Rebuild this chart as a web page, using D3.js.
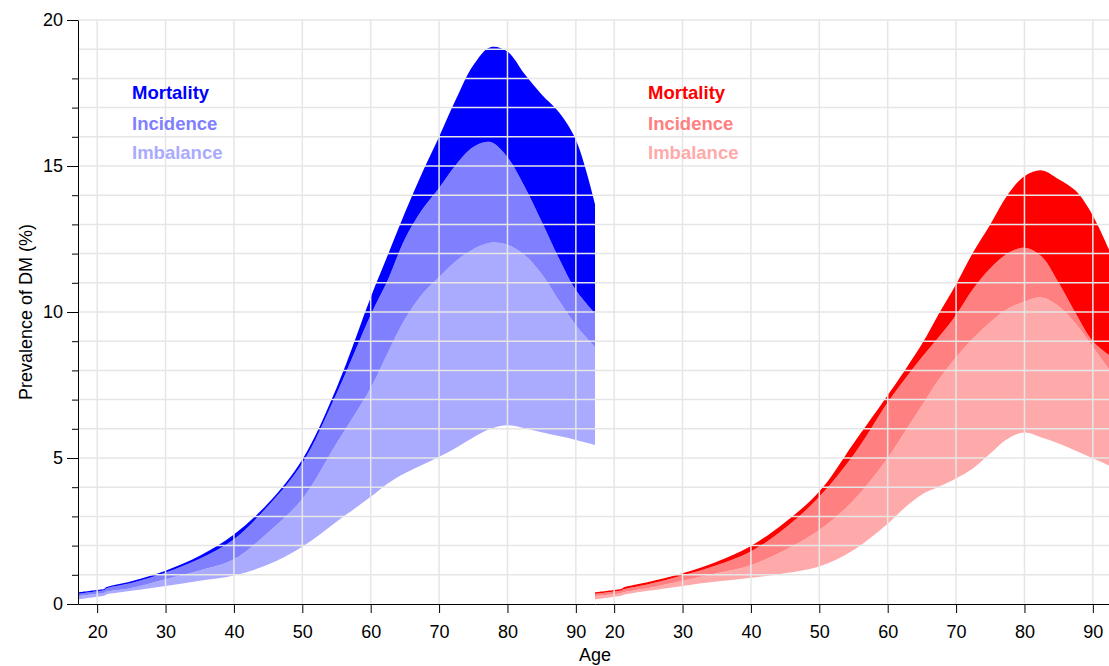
<!DOCTYPE html>
<html>
<head>
<meta charset="utf-8">
<script src="https://cdn.jsdelivr.net/npm/d3@7"></script>
<style>
    body { margin: 0; background: #ffffff; }
    svg { display: block; font-family: "Liberation Sans", Arial, sans-serif; }
</style>
</head>
<body>
<svg id="chart" width="1109" height="666"></svg>
<script>
/*=============== DATA ============*/

var ages = [17.2, 20, 21, 21.3, 25, 30, 35, 40, 45, 50, 55, 60, 62.5, 65, 67.5, 70, 72.5, 75, 77.5, 80, 82.5, 85, 87.5, 90, 92.8];

// left panel (blue)
var blueBase      = [0.16, 0.25, 0.28, 0.32, 0.45, 0.62, 0.80, 0.98, 1.35, 1.96, 2.82, 3.67, 4.13, 4.48, 4.76, 5.04, 5.35, 5.70, 6.00, 6.12, 6.02, 5.88, 5.75, 5.62, 5.45];
var blueImbalance = [0.27, 0.35, 0.38, 0.42, 0.55, 0.85, 1.15, 1.53, 2.45, 3.60, 5.50, 7.40, 8.60, 9.75, 10.60, 11.20, 11.75, 12.15, 12.37, 12.30, 11.95, 11.30, 10.40, 9.55, 8.80];
var blueIncidence = [0.35, 0.44, 0.47, 0.53, 0.72, 1.08, 1.55, 2.22, 3.36, 4.82, 7.20, 9.90, 11.10, 12.50, 13.50, 14.25, 15.05, 15.65, 15.82, 15.30, 14.30, 13.10, 11.85, 10.75, 9.95];
var blueMortality = [0.40, 0.48, 0.51, 0.57, 0.78, 1.14, 1.65, 2.38, 3.45, 4.95, 7.40, 10.50, 11.95, 13.40, 14.75, 16.00, 17.30, 18.45, 19.07, 18.92, 18.15, 17.45, 16.85, 15.90, 13.70];

// right panel (red)
var redBase      = [0.16, 0.25, 0.28, 0.31, 0.45, 0.62, 0.77, 0.90, 1.05, 1.28, 1.85, 2.75, 3.30, 3.75, 4.02, 4.30, 4.65, 5.15, 5.65, 5.87, 5.70, 5.50, 5.25, 4.99, 4.70];
var redImbalance = [0.27, 0.34, 0.37, 0.40, 0.55, 0.80, 1.05, 1.33, 1.85, 2.53, 3.55, 5.00, 5.90, 6.80, 7.70, 8.45, 9.10, 9.65, 10.10, 10.35, 10.50, 10.20, 9.60, 8.80, 7.90];
var redIncidence = [0.35, 0.43, 0.46, 0.50, 0.68, 0.98, 1.33, 1.80, 2.60, 3.67, 5.10, 6.90, 7.70, 8.45, 9.15, 9.90, 10.80, 11.50, 12.00, 12.20, 11.90, 11.00, 9.95, 9.00, 8.45];
var redMortality = [0.40, 0.48, 0.51, 0.56, 0.75, 1.05, 1.45, 1.99, 2.80, 3.85, 5.50, 7.15, 8.00, 8.90, 9.95, 10.95, 12.05, 13.00, 14.00, 14.65, 14.85, 14.55, 14.15, 13.30, 11.90];

var xTicks = [20, 30, 40, 50, 60, 70, 80, 90];
var yTicks = [0, 1, 2, 3, 4, 5, 6, 7, 8, 9, 10, 11, 12, 13, 14, 15, 16, 17, 18, 20];
var yGrid = [1, 2, 3, 4, 5, 6, 7, 8, 9, 10, 11, 12, 13, 14, 15, 16, 17, 18, 19, 20];
var legendLabels = ['Mortality', 'Incidence', 'Imbalance'];

(function () {

    /*=============== SETUP ============*/

    var svg = d3.select('#chart');

    var plotTop = 20;
    var plotBottom = 604;
    var panelWidth = 517;
    var axisLeft = 78;
    var fontFamily = '"Liberation Sans", Arial, sans-serif';

    var y = d3.scaleLinear().domain([0, 20]).range([plotBottom, plotTop]);

    var panels = [
        {
            left: axisLeft,
            base: blueBase, imbalance: blueImbalance, incidence: blueIncidence, mortality: blueMortality,
            colors: ['#0000ff', '#8080ff', '#aaaaff'],
            legendX: 132
        },
        {
            left: axisLeft + panelWidth,
            base: redBase, imbalance: redImbalance, incidence: redIncidence, mortality: redMortality,
            colors: ['#ff0000', '#ff8080', '#ffaaaa'],
            legendX: 648
        }
    ];

    svg.append('rect')
        .attr('width', 1109)
        .attr('height', 666)
        .attr('fill', '#ffffff');

    /*=============== AREAS ============*/

    panels.forEach(function (p, i) {

        p.x = d3.scaleLinear().domain([17.2, 92.8]).range([p.left, p.left + panelWidth]);

        var band = function (lower, upper) {
            return d3.area()
                .x(function (d, j) { return p.x(ages[j]); })
                .y0(function (d, j) { return y(lower[j]); })
                .y1(function (d, j) { return y(upper[j]); })
                .curve(d3.curveCatmullRom.alpha(0.5))(ages);
        };

        svg.append('clipPath')
            .attr('id', 'clip' + i)
            .append('rect')
                .attr('x', p.left)
                .attr('y', 0)
                .attr('width', panelWidth)
                .attr('height', plotBottom);

        var g = svg.append('g').attr('clip-path', 'url(#clip' + i + ')');

        g.append('path').attr('d', band(p.base, p.imbalance)).attr('fill', p.colors[2]);
        g.append('path').attr('d', band(p.imbalance, p.incidence)).attr('fill', p.colors[1]);
        g.append('path').attr('d', band(p.incidence, p.mortality)).attr('fill', p.colors[0]);
    });

    /*=============== GRID ============*/

    var grid = svg.append('g')
        .attr('stroke', '#e6e6e6')
        .attr('stroke-width', 1.5);

    grid.selectAll('line.h')
        .data(yGrid)
        .enter().append('line')
            .attr('class', 'h')
            .attr('x1', axisLeft)
            .attr('x2', 1109)
            .attr('y1', function (d) { return y(d); })
            .attr('y2', function (d) { return y(d); });

    panels.forEach(function (p) {
        grid.selectAll(null)
            .data(xTicks)
            .enter().append('line')
                .attr('x1', function (d) { return p.x(d); })
                .attr('x2', function (d) { return p.x(d); })
                .attr('y1', plotTop)
                .attr('y2', plotBottom);
    });

    /*=============== AXES ============*/

    panels.forEach(function (p) {
        var ax = svg.append('g')
            .attr('transform', 'translate(0,' + plotBottom + ')')
            .call(d3.axisBottom(p.x).tickValues(xTicks).tickSizeInner(9).tickSizeOuter(0).tickPadding(12));
        ax.selectAll('text').attr('font-size', 18).attr('font-family', fontFamily).attr('fill', '#000');
        ax.selectAll('line, path').attr('stroke', '#000');
    });

    var yAxis = svg.append('g')
        .attr('transform', 'translate(' + axisLeft + ',0)')
        .call(d3.axisLeft(y)
            .tickValues(yTicks)
            .tickSizeInner(11)
            .tickSizeOuter(0)
            .tickPadding(4)
            .tickFormat(function (d) { return d % 5 === 0 ? d : ''; }));

    yAxis.selectAll('.tick line')
        .attr('x2', function (d) { return d % 5 === 0 ? -11 : -6; });
    yAxis.selectAll('text').attr('font-size', 18).attr('font-family', fontFamily).attr('fill', '#000');
    yAxis.selectAll('line, path').attr('stroke', '#000');

    svg.append('text')
        .attr('x', 595)
        .attr('y', 661)
        .attr('text-anchor', 'middle')
        .attr('font-size', 18)
        .text('Age');

    svg.append('text')
        .attr('transform', 'translate(32,312) rotate(-90)')
        .attr('text-anchor', 'middle')
        .attr('font-size', 18)
        .text('Prevalence of DM (%)');

    /*=============== LEGENDS ============*/

    var legendY = [99, 130, 159];

    panels.forEach(function (p) {
        svg.selectAll(null)
            .data(legendLabels)
            .enter().append('text')
                .attr('x', p.legendX)
                .attr('y', function (d, i) { return legendY[i]; })
                .attr('font-size', 18.5)
                .attr('font-weight', 'bold')
                .attr('fill', function (d, i) { return p.colors[i]; })
                .text(function (d) { return d; });
    });

})();
</script>
</body>
</html>
